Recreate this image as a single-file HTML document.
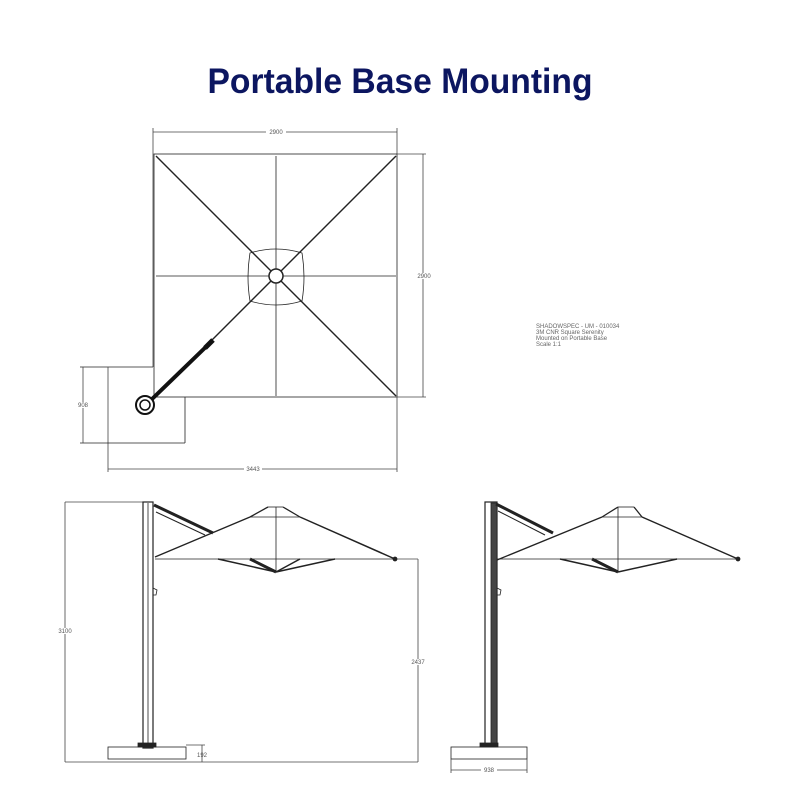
<!DOCTYPE html>
<html><head><meta charset="utf-8"><style>
html,body{margin:0;padding:0;background:#fff}
svg{display:block}
text{font-family:"Liberation Sans",sans-serif}
</style></head><body>
<svg width="800" height="800" viewBox="0 0 800 800" xmlns="http://www.w3.org/2000/svg">
<text x="400" y="93" text-anchor="middle" font-size="35" font-weight="bold" fill="#0c1660" textLength="385" lengthAdjust="spacingAndGlyphs">Portable Base Mounting</text>

<g stroke="#444" fill="none" stroke-width="0.8">
<line x1="153" y1="132" x2="397" y2="132"/>
<line x1="153" y1="128" x2="153" y2="367"/>
<line x1="397" y1="128" x2="397" y2="154"/>
<rect x="154" y="154" width="243" height="243" stroke="#222"/>
<line x1="397" y1="154" x2="426" y2="154"/>
<line x1="397" y1="397" x2="426" y2="397"/>
<line x1="423" y1="154" x2="423" y2="397"/>
<line x1="276" y1="156" x2="276" y2="396" stroke="#222"/>
<line x1="156" y1="276" x2="396" y2="276" stroke="#222"/>
<line x1="156" y1="156" x2="396" y2="396" stroke="#222" stroke-width="1.4"/>
<line x1="396" y1="156" x2="156" y2="396" stroke="#222" stroke-width="1.4"/>
<path d="M250 253 Q276 245 302 253 Q306 277 302 301 Q276 309 250 301 Q246 277 250 253Z" stroke="#222"/>
<circle cx="276" cy="276" r="7" stroke="#222" stroke-width="1.5" fill="#fff"/>
<line x1="150" y1="401" x2="212" y2="341" stroke="#111" stroke-width="4"/>
<line x1="205" y1="348" x2="213" y2="340" stroke="#111" stroke-width="5"/>
<circle cx="145" cy="405" r="9" stroke="#111" stroke-width="2" fill="#fff"/>
<circle cx="145" cy="405" r="5" stroke="#111" stroke-width="1.5"/>
<line x1="80" y1="367" x2="153" y2="367" stroke="#222"/>
<line x1="108" y1="367" x2="108" y2="472" />
<line x1="80" y1="443" x2="185" y2="443" stroke="#222"/>
<line x1="185" y1="397" x2="185" y2="443" stroke="#222"/>
<line x1="83" y1="367" x2="83" y2="443"/>
<line x1="397" y1="397" x2="397" y2="472"/>
<line x1="108" y1="469" x2="397" y2="469"/>

<line x1="65" y1="502" x2="65" y2="762"/>
<line x1="65" y1="502" x2="143" y2="502"/>
<line x1="65" y1="762" x2="418" y2="762"/>
<line x1="418" y1="559" x2="418" y2="762"/>
<line x1="395" y1="559" x2="418" y2="559"/>
<line x1="186" y1="745" x2="205" y2="745"/>
<line x1="202" y1="745" x2="202" y2="762"/>
<g stroke="#222">
<rect x="143" y="502" width="10" height="246" stroke-width="1.2"/>
<line x1="148" y1="503" x2="148" y2="747"/>
<rect x="108" y="747" width="78" height="12"/>
<rect x="138" y="743" width="18" height="4" fill="#222"/>
<line x1="154" y1="505" x2="213" y2="533" stroke-width="3"/>
<line x1="156" y1="512" x2="205" y2="535" stroke-width="1"/>
<line x1="155" y1="557" x2="250" y2="517" stroke-width="1.3"/>
<line x1="250" y1="517" x2="268" y2="507" stroke-width="1.3"/>
<line x1="268" y1="507" x2="283" y2="507"/>
<line x1="283" y1="507" x2="300" y2="517" stroke-width="1.3"/>
<line x1="250" y1="517" x2="300" y2="517"/>
<line x1="300" y1="517" x2="395" y2="559" stroke-width="1.5"/>
<circle cx="395" cy="559" r="2" fill="#222"/>
<line x1="155" y1="559" x2="395" y2="559"/>
<line x1="276" y1="507" x2="276" y2="572"/>
<line x1="218" y1="559" x2="276" y2="572" stroke-width="1.5"/>
<line x1="335" y1="559" x2="276" y2="572" stroke-width="1.5"/>
<line x1="250" y1="559" x2="276" y2="572" stroke-width="3"/>
<line x1="300" y1="559" x2="276" y2="572" stroke-width="1.5"/>
<path d="M153 588 l4 2 l-1 5 l-3 0"/>
</g>

<g stroke="#222">
<rect x="485" y="502" width="12" height="244" stroke-width="1.2"/>
<rect x="491" y="503" width="6" height="243" fill="#444"/>
<rect x="451" y="747" width="76" height="12"/>
<rect x="480" y="743" width="18" height="4" fill="#222"/>
<line x1="496" y1="504" x2="553" y2="533" stroke-width="3"/>
<line x1="498" y1="511" x2="545" y2="535" stroke-width="1"/>
<line x1="497" y1="560" x2="602" y2="517" stroke-width="1.3"/>
<line x1="602" y1="517" x2="618" y2="507" stroke-width="1.3"/>
<line x1="618" y1="507" x2="634" y2="507"/>
<line x1="634" y1="507" x2="642" y2="517" stroke-width="1.3"/>
<line x1="602" y1="517" x2="642" y2="517"/>
<line x1="642" y1="517" x2="738" y2="559" stroke-width="1.5"/>
<circle cx="738" cy="559" r="2" fill="#222"/>
<line x1="497" y1="559" x2="738" y2="559"/>
<line x1="618" y1="507" x2="618" y2="572"/>
<line x1="560" y1="559" x2="618" y2="572" stroke-width="1.5"/>
<line x1="677" y1="559" x2="618" y2="572" stroke-width="1.5"/>
<line x1="592" y1="559" x2="618" y2="572" stroke-width="3"/>
<path d="M497 588 l4 2 l-1 5 l-3 0"/>
</g>
<line x1="451" y1="759" x2="451" y2="773"/>
<line x1="527" y1="759" x2="527" y2="773"/>
<line x1="451" y1="770" x2="527" y2="770"/>
</g>

<g font-size="6" fill="#555" text-anchor="middle">
<rect x="266" y="129" width="20" height="6" fill="#fff"/>
<text x="276" y="134">2900</text>
<rect x="416" y="273" width="16" height="6" fill="#fff"/>
<text x="424" y="278">2900</text>
<rect x="77" y="402" width="12" height="6" fill="#fff"/>
<text x="83" y="407">908</text>
<rect x="244" y="466" width="18" height="6" fill="#fff"/>
<text x="253" y="471">3443</text>
<rect x="58" y="628" width="14" height="6" fill="#fff"/>
<text x="65" y="633">3100</text>
<rect x="411" y="659" width="16" height="6" fill="#fff"/>
<text x="418" y="664">2437</text>
<text x="202" y="757">192</text>
<rect x="481" y="767" width="16" height="6" fill="#fff"/>
<text x="489" y="772">938</text>
</g>
<g font-size="6" fill="#666">
<text x="536" y="328">SHADOWSPEC - UM - 010034</text>
<text x="536" y="334">3M CNR Square Serenity</text>
<text x="536" y="340">Mounted on Portable Base</text>
<text x="536" y="346">Scale 1:1</text>
</g>
</svg>
</body></html>
